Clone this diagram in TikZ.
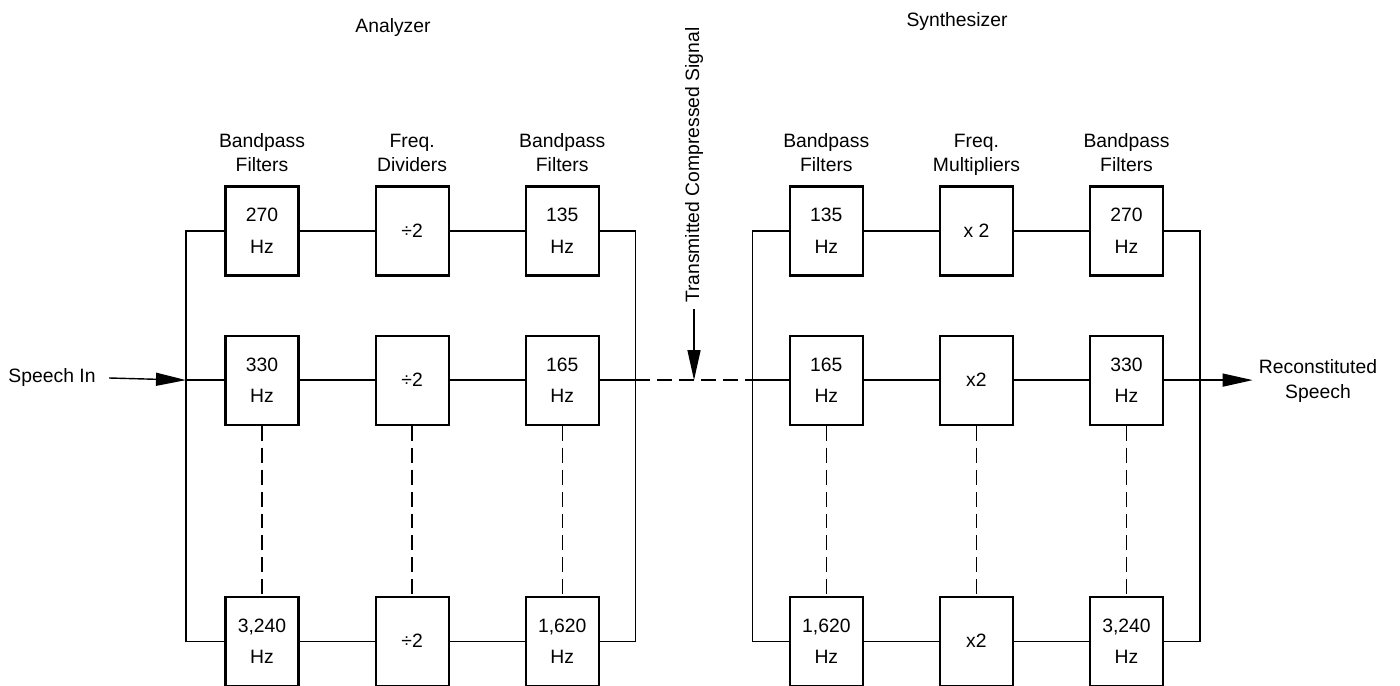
\documentclass[tikz,border=0pt]{standalone}
\usepackage{fontspec}
\setmainfont{Liberation Sans}
\usetikzlibrary{arrows.meta,calc,positioning}

\begin{document}
\begin{tikzpicture}[
  node distance=15mm,
  b/.style={draw,line width=1.2pt,minimum width=14.6mm,minimum height=17.8mm,
    inner sep=1pt,align=center,font=\fontsize{11}{18}\selectfont},
  t/.style={align=center,font=\fontsize{11}{14}\selectfont},
  h/.style={t,text depth=0pt},
  w/.style={line width=.8pt},
  d/.style={line width=.8pt,dash pattern=on 8.5pt off 4pt},
  a/.style={-{Triangle[length=6mm,width=2.6mm]},line width=.8pt}
]
\useasboundingbox (0,0) rectangle (28,-13.72);
% analyzer
\node[b] (A11) at (5.24,-4.62) {270\\Hz};
\node[b,right=of A11] (A12) {÷2};
\node[b,right=of A12] (A13) {135\\Hz};
\node[b,below=11.6mm of A11] (A21) {330\\Hz};
\node[b,right=of A21] (A22) {÷2};
\node[b,right=of A22] (A23) {165\\Hz};
\node[b,below=34mm of A21] (A31) {3,240\\Hz};
\node[b,right=of A31] (A32) {÷2};
\node[b,right=of A32] (A33) {1,620\\Hz};
% synthesizer
\node[b,right=37.8mm of A13] (S11) {135\\Hz};
\node[b,right=of S11] (S12) {x 2};
\node[b,right=of S12] (S13) {270\\Hz};
\node[b,below=11.6mm of S11] (S21) {165\\Hz};
\node[b,right=of S21] (S22) {x2};
\node[b,right=of S22] (S23) {330\\Hz};
\node[b,below=34mm of S21] (S31) {1,620\\Hz};
\node[b,right=of S31] (S32) {x2};
\node[b,right=of S32] (S33) {3,240\\Hz};
% headings
\node[h,above=1.5mm of A11] (hA1) {Bandpass\\Filters};
\node[h,above=1.5mm of A12] (hA2) {Freq.\\Dividers};
\node[h,above=1.5mm of A13] (hA3) {Bandpass\\Filters};
\node[h,above=1.5mm of S11] (hS1) {Bandpass\\Filters};
\node[h,above=1.5mm of S12] (hS2) {Freq.\\Multipliers};
\node[h,above=1.5mm of S13] (hS3) {Bandpass\\Filters};
\node[t] (ana) at (7.86,-0.56) {Analyzer};
\node[t] (syn) at (19.14,-0.44) {Synthesizer};
\node[t] (sin) at (1.04,-7.56) {Speech In};
\node[t] (rsp) at (26.36,-7.62) {Reconstituted\\Speech};
% rows
\draw[w] (A11)--(A12); \draw[w] (A12)--(A13);
\draw[w] (A21)--(A22); \draw[w] (A22)--(A23);
\draw[w] (A31)--(A32); \draw[w] (A32)--(A33);
\draw[w] (S11)--(S12); \draw[w] (S12)--(S13);
\draw[w] (S21)--(S22); \draw[w] (S22)--(S23);
\draw[w] (S31)--(S32); \draw[w] (S32)--(S33);
% omitted channels
\draw[d] (A21)--(A31); \draw[d] (A22)--(A32); \draw[d] (A23)--(A33);
\draw[d] (S21)--(S31); \draw[d] (S22)--(S32); \draw[d] (S23)--(S33);
% buses
\coordinate (LA) at ($(A21.west)+(-7.7mm,0)$);
\coordinate (RA) at ($(A23.east)+(7.1mm,0)$);
\coordinate (LS) at ($(S21.west)+(-7.2mm,0)$);
\coordinate (RS) at ($(S23.east)+(7.2mm,0)$);
\draw[w] (A11.west) -| (LA) |- (A31.west);
\draw[w] (LA) -- (A21.west);
\draw[a] ([xshift=1.5mm]sin.east) -- (LA);
\draw[w] (A13.east) -| (RA) |- (A33.east);
\draw[w] (A23.east) -- (RA);
\draw[d] (RA) -- (LS);
\draw[w] (S11.west) -| (LS) |- (S31.west);
\draw[w] (LS) -- (S21.west);
\draw[w] (S13.east) -| (RS) |- (S33.east);
\draw[a] (S23.east) -- (S23.east -| rsp.west);
% channel
\coordinate (mid) at ($(RA)!.5!(LS)$);
\node[t,rotate=90,anchor=west] (tcs) at ($(mid)+(0,14.2mm)$) {Transmitted Compressed Signal};
\draw[a] (tcs.west) -- (mid);
\end{tikzpicture}
\end{document}
